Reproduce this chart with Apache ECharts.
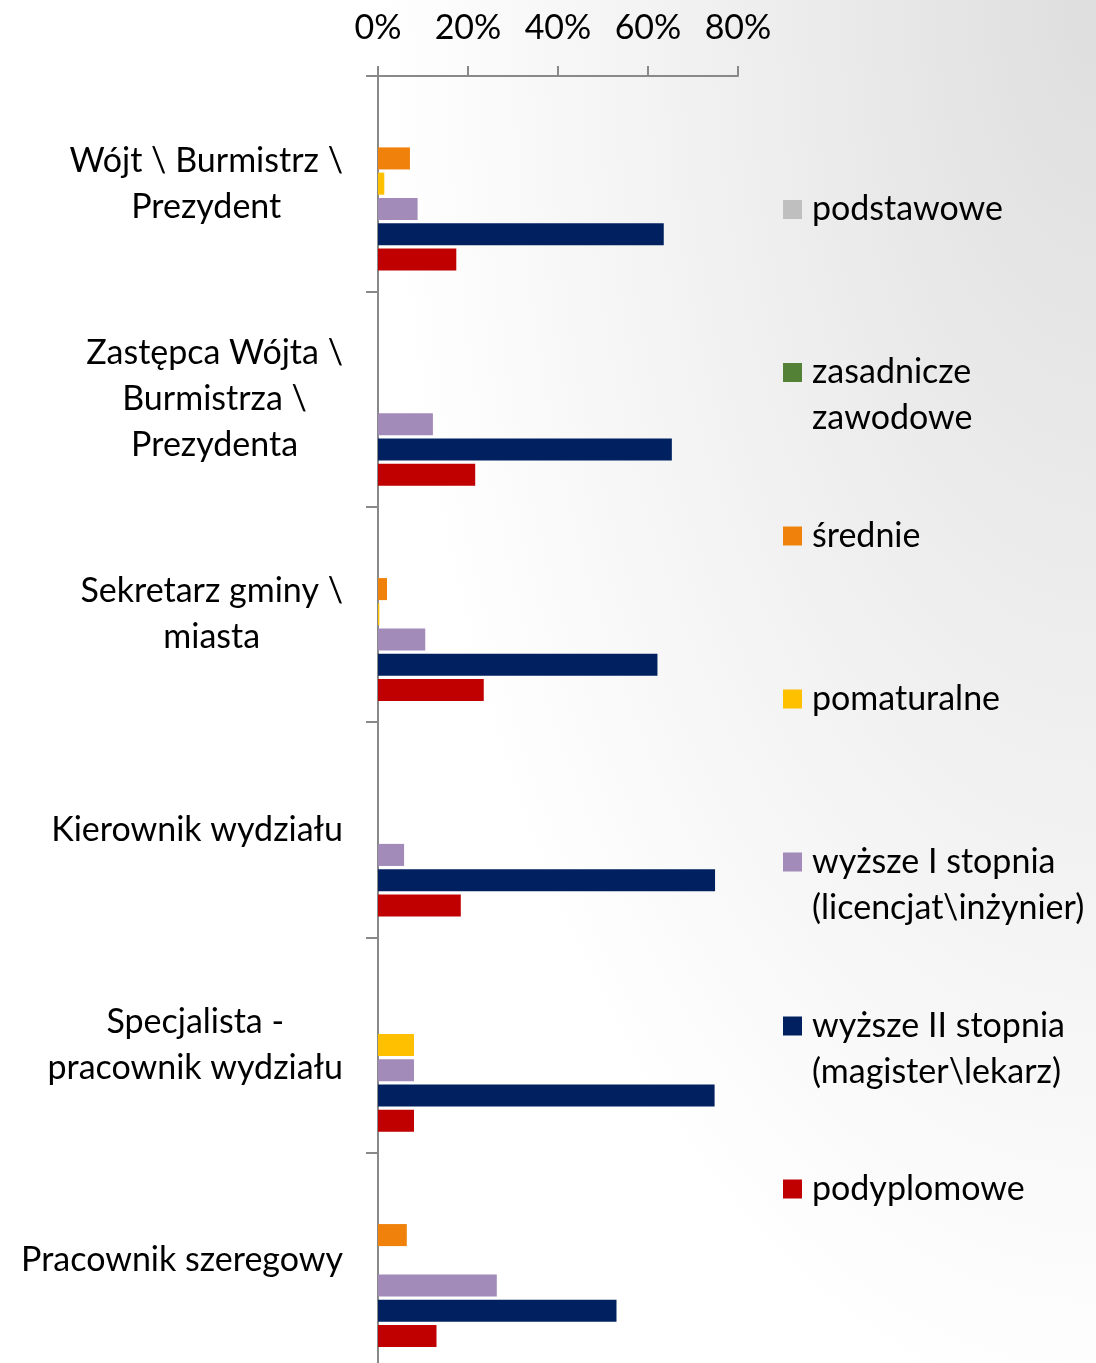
<!DOCTYPE html>
<html>
<head>
<meta charset="utf-8">
<script src="https://cdn.jsdelivr.net/npm/echarts@6/dist/echarts.min.js"></script>
<style>
  html, body { margin: 0; padding: 0; }
  #main { width: 1096px; height: 1363px; }
</style>
</head>
<body>
<div id="main"></div>
<script>
// kategorie (stanowiska) i wartości w %
var categories = [
  'Wójt \\ Burmistrz \\\nPrezydent',
  'Zastępca Wójta \\\nBurmistrza \\\nPrezydenta',
  'Sekretarz gminy \\\nmiasta',
  'Kierownik wydziału',
  'Specjalista -\npracownik wydziału',
  'Pracownik szeregowy'
];
var seriesNames = [
  'podstawowe',
  'zasadnicze\nzawodowe',
  'średnie',
  'pomaturalne',
  'wyższe I stopnia\n(licencjat\\inżynier)',
  'wyższe II stopnia\n(magister\\lekarz)',
  'podyplomowe'
];
var podstawowe  = [0, 0, 0, 0, 0, 0];
var zasadnicze  = [0, 0, 0, 0, 0, 0];
var srednie     = [7.1, 0, 2.0, 0, 0, 6.4];
var pomaturalne = [1.4, 0, 0.3, 0, 8.0, 0];
var wyzszeI     = [8.8, 12.2, 10.5, 5.8, 8.0, 26.4];
var wyzszeII    = [63.5, 65.3, 62.1, 74.9, 74.8, 53.0];
var podyplomowe = [17.4, 21.6, 23.5, 18.4, 8.0, 13.0];
var xTicks = [0, 20, 40, 60, 80];

var colors = ['#BFBFBF', '#538135', '#F0820C', '#FFC000', '#A28AB9', '#002060', '#C00000'];
var allData = [podstawowe, zasadnicze, srednie, pomaturalne, wyzszeI, wyzszeII, podyplomowe];

var FONT = 'Lato';
var FS = 34;
var LH = 46;

var myChart = echarts.init(document.getElementById('main'));

var series = [];
for (var i = 0; i < seriesNames.length; i++) {
  series.push({
    name: seriesNames[i],
    type: 'bar',
    data: allData[i],
    barGap: '14.5%',
    barCategoryGap: '19.4%',
    itemStyle: { color: colors[i] },
    emphasis: { disabled: true }
  });
}

// legenda: każdy wpis osobno, ikona przy pierwszej linii tekstu
var legendCenters = [209.5, 372.5, 536, 699, 862, 1026, 1189];
var legends = [];
for (var j = 0; j < seriesNames.length; j++) {
  var twoLines = seriesNames[j].indexOf('\n') >= 0;
  legends.push({
    data: [seriesNames[j]],
    left: 783,
    top: legendCenters[j] - (twoLines ? LH * 1.5 : LH / 2),
    padding: 0,
    itemWidth: 19,
    itemHeight: 19,
    itemGap: 10,
    icon: 'rect',
    selectedMode: false,
    formatter: twoLines ? function (n) { return '\n' + n; } : '{name}',
    textStyle: { fontFamily: FONT, fontSize: FS, lineHeight: LH, color: '#000', padding: [0, 0, 0, 5] }
  });
}

var option = {
  backgroundColor: '#ffffff',
  animation: false,
  // szare cieniowanie w prawym górnym rogu (tło slajdu)
  graphic: [{
    type: 'rect',
    z: -10,
    silent: true,
    left: 0,
    top: 0,
    scaleY: 2,
    shape: { x: 0, y: 0, width: 1096, height: 681.5 },
    style: {
      fill: new echarts.graphic.RadialGradient(1, 0, 1.05, [
        { offset: 0, color: '#dedede' },
        { offset: 0.5, color: '#efefef' },
        { offset: 1, color: '#ffffff' }
      ])
    }
  }],
  legend: legends,
  grid: { left: 378, right: 358, top: 76, height: 1292, outerBoundsMode: 'none', containLabel: false },
  xAxis: {
    type: 'value',
    position: 'top',
    min: xTicks[0],
    max: xTicks[xTicks.length - 1],
    interval: 20,
    axisLine: { show: true, lineStyle: { color: '#898989', width: 2 } },
    axisTick: { show: true, length: 10, lineStyle: { color: '#898989', width: 2 } },
    splitLine: { show: false },
    axisLabel: { formatter: '{value}%', fontFamily: FONT, fontSize: FS, color: '#000', margin: 31 }
  },
  yAxis: {
    type: 'category',
    inverse: true,
    data: categories,
    axisLine: { show: true, lineStyle: { color: '#898989', width: 2 } },
    axisTick: { show: true, length: 12, lineStyle: { color: '#898989', width: 2 } },
    axisLabel: {
      margin: 35,
      formatter: function (v) {
        return v.split('\n').map(function (s) { return '{c|' + s + '}'; }).join('\n');
      },
      rich: { c: { align: 'center', fontFamily: FONT, fontSize: FS, lineHeight: LH, color: '#000' } }
    }
  },
  series: series
};

myChart.setOption(option);
</script>
</body>
</html>
